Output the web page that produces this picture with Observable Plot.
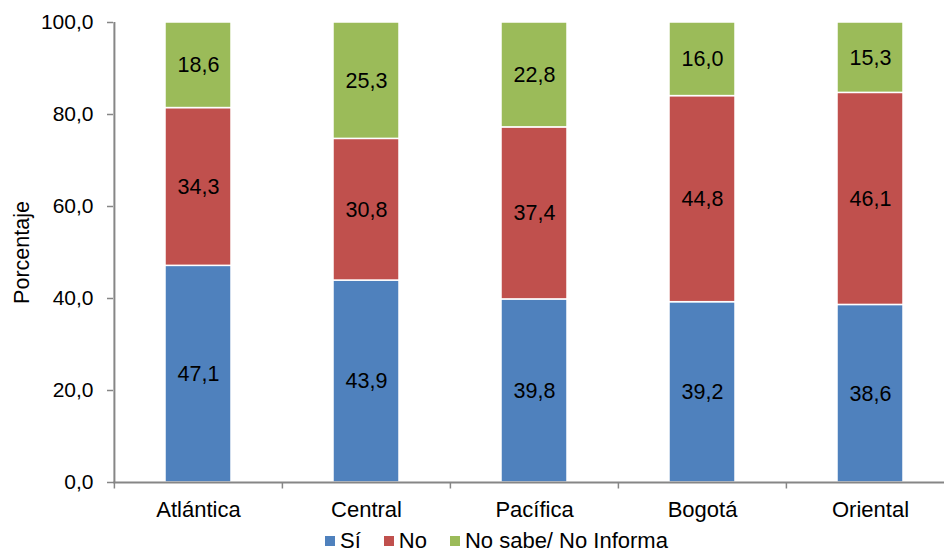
<!DOCTYPE html>
<html><head><meta charset="utf-8">
<script src="https://cdn.jsdelivr.net/npm/d3@7"></script>
<script src="https://cdn.jsdelivr.net/npm/@observablehq/plot@0.6"></script>
<style>
html,body{margin:0;padding:0;background:#fff;overflow:hidden;width:944px;height:553px;}
#chart{position:relative;width:944px;height:553px;font-family:"Liberation Sans",Arial,sans-serif;overflow:hidden;}
#chart svg{display:block;}
#legend{position:absolute;left:325px;top:530px;display:flex;align-items:center;font-size:22px;line-height:21px;color:#000;white-space:nowrap;}
#legend .item{display:flex;align-items:center;margin-right:23px;}
#legend .sw{width:10px;height:10px;margin-right:5px;display:inline-block;}
</style></head><body><div id="chart"></div>
<script>
const categories = ["Atlántica", "Central", "Pacífica", "Bogotá", "Oriental"];
const series = ["Sí", "No", "No sabe/ No Informa"];
const si = [47.1, 43.9, 39.8, 39.2, 38.6];
const no = [34.3, 30.8, 37.4, 44.8, 46.1];
const nsni = [18.6, 25.3, 22.8, 16.0, 15.3];
const colors = ["#4F81BD", "#C0504D", "#9BBB59"];
const yTicks = [0, 20, 40, 60, 80, 100];
const yLabel = "Porcentaje";

const values = [si, no, nsni];
const data = series.flatMap((s, i) => categories.map((c, j) => ({region: c, serie: s, value: values[i][j]})));
const fmt = v => v.toFixed(1).replace(".", ",");
const W = 944, H = 530, ML = 113, MR = -10, MT = 22, MB = 48;
const step = (W - MR - ML) / categories.length;
const axisGray = "#868686";
const tickSymbol = {draw(ctx) { ctx.moveTo(0, 0); ctx.lineTo(0, 6); }};

const plot = Plot.plot({
  width: W, height: H,
  marginLeft: ML, marginRight: MR, marginTop: MT, marginBottom: MB,
  style: {fontFamily: '"Liberation Sans", Arial, sans-serif', fontSize: "21px", color: "#000", background: "white"},
  x: {domain: categories, padding: 0, label: null},
  y: {domain: [0, 100], label: null},
  color: {domain: series, range: colors},
  marks: [
    Plot.barY(data, Plot.stackY({x: "region", y: "value", fill: "serie", insetLeft: 51, insetRight: 51, stroke: "white", strokeWidth: 1.5})),
    Plot.text(data, Plot.stackY({x: "region", y: "value", z: "serie", text: d => fmt(d.value), fontSize: 21.5, fill: "black"})),
    Plot.ruleY([0], {stroke: axisGray, strokeWidth: 2}),
    Plot.ruleX([categories[0]], {x: d => d, dx: -step / 2, y1: 0, y2: 100, stroke: axisGray, strokeWidth: 2}),
    Plot.dot(categories, {x: d => d, y: d => 0, dx: -step / 2, symbol: tickSymbol, stroke: axisGray, strokeWidth: 1.5, fill: "none"}),
    Plot.axisY(yTicks, {tickSize: 6, tickPadding: 14, tickFormat: fmt, stroke: axisGray, strokeWidth: 1.5, fill: "black", label: null}),
    Plot.axisX({tickSize: 0, tickPadding: 19, label: null, fontSize: 22, fill: "black"}),
    Plot.text([yLabel], {frameAnchor: "left", text: d => d, rotate: -90, dx: -85, textAnchor: "middle", lineAnchor: "bottom", fontSize: 21.5, fill: "black"})
  ]
});
const chart = document.getElementById("chart");
chart.appendChild(plot);

const legend = document.createElement("div");
legend.id = "legend";
series.forEach((s, i) => {
  const item = document.createElement("span");
  item.className = "item";
  const sw = document.createElement("span");
  sw.className = "sw";
  sw.style.background = colors[i];
  const t = document.createElement("span");
  t.textContent = s;
  item.appendChild(sw);
  item.appendChild(t);
  legend.appendChild(item);
});
chart.appendChild(legend);
</script>
</body></html>
